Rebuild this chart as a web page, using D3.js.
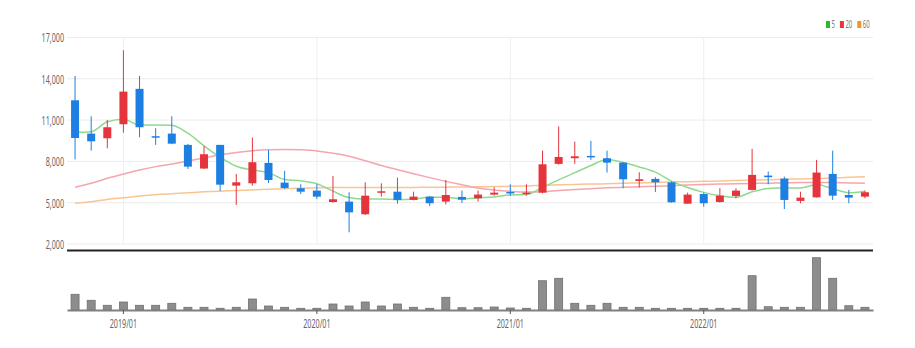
<!DOCTYPE html>
<html><head><meta charset="utf-8">
<script src="https://cdn.jsdelivr.net/npm/d3@7"></script>
<style>
html,body{margin:0;padding:0;background:#fff;}
svg{display:block;font-family:"Noto Sans",sans-serif;}
</style></head>
<body><svg id="c" width="915" height="348"></svg>
<script>
const months = ["2018/10","2018/11","2018/12",
"2019/01","2019/02","2019/03","2019/04","2019/05","2019/06","2019/07","2019/08","2019/09","2019/10","2019/11","2019/12",
"2020/01","2020/02","2020/03","2020/04","2020/05","2020/06","2020/07","2020/08","2020/09","2020/10","2020/11","2020/12",
"2021/01","2021/02","2021/03","2021/04","2021/05","2021/06","2021/07","2021/08","2021/09","2021/10","2021/11","2021/12",
"2022/01","2022/02","2022/03","2022/04","2022/05","2022/06","2022/07","2022/08","2022/09","2022/10","2022/11"];
const openP  = [12440,10020,9680,10700,13270,9830,10020,9200,7480,9200,6240,6410,7890,6460,6050,5880,5050,5080,4160,5730,5800,5200,5440,5080,5420,5320,5590,5780,5630,5730,7820,8230,8400,8230,7910,6580,6730,6480,4930,5630,5050,5490,5930,6970,6750,5130,5390,7090,5560,5440];
const highP  = [14210,11280,11010,16080,14210,10410,11280,9270,9120,9200,7090,9730,8830,7310,6340,6340,6940,5760,6480,6410,6820,5800,5490,6650,5880,5880,6120,6340,6340,8780,10550,9440,9490,8780,7950,7210,6850,6530,5730,5730,6050,6050,8910,7260,6890,5800,8110,8780,5930,5880];
const lowP   = [8150,8780,8950,10090,9750,9200,9250,7450,7450,5850,4840,6240,6430,6000,5630,5270,5000,2850,4110,5440,4930,5170,4760,4880,4980,5080,5510,5510,5510,5680,7770,7820,8110,7190,6050,6100,5780,5000,4930,4710,5000,5320,5880,6340,4540,4960,5370,5200,4960,5320];
const closeP = [9700,9460,10480,13070,10480,9760,9290,7620,8520,6310,6480,7940,6650,6070,5800,5440,5250,4300,5510,5830,5200,5440,4960,5560,5220,5590,5730,5700,5730,7790,8320,8370,8300,7910,6700,6700,6480,5030,5590,4960,5510,5880,7020,6850,5200,5370,7190,5510,5370,5760];
const ma5  = [10110,10160,10880,11060,10640,10650,10620,10050,9130,8300,7650,7370,7180,6690,6590,6380,5840,5370,5260,5270,5220,5260,5390,5400,5280,5350,5410,5560,5590,6110,6660,7180,7700,8140,7920,7600,7220,6570,6100,5750,5510,5390,5790,6040,6090,6060,6320,6020,5730,5840];
const ma20 = [6120,6410,6770,7080,7370,7620,7810,8030,8250,8480,8650,8780,8850,8870,8840,8760,8600,8380,8050,7700,7400,7100,6820,6550,6300,6060,5920,5830,5780,5800,5880,5950,6020,6080,6120,6160,6200,6240,6280,6320,6350,6380,6400,6420,6440,6460,6470,6460,6440,6420];
const ma60 = [4960,5070,5240,5360,5480,5580,5650,5720,5790,5840,5880,5930,5970,6010,6050,6080,6100,6110,6110,6110,6110,6110,6120,6130,6140,6150,6170,6190,6220,6260,6300,6330,6350,6380,6410,6440,6470,6500,6520,6550,6580,6610,6640,6670,6700,6730,6760,6800,6840,6880];
const volume = [157,97,47,80,47,47,67,27,27,17,27,110,40,27,17,17,60,40,80,40,60,27,17,127,23,23,30,20,17,293,317,67,47,67,27,27,17,17,17,17,17,17,343,33,27,27,523,317,43,27];
const priceTicks = [2000,5000,8000,11000,14000,17000];
const yearTicks = ["2019/01","2020/01","2021/01","2022/01"];
const maNames = ["5","20","60"];
const maColors = ["#8fd98f","#f5a5ad","#f8c593"];
const legendColors = ["#2db92d","#e8343c","#f3922c"];
const upColor = "#e5343c", downColor = "#1d7fe2";

const svg = d3.select("#c");
const L = 67, R = 873;
const x = d3.scaleBand().domain(months).range([L, R]).padding(0);
const cx = m => x(m) + x.bandwidth()/2;
const y = d3.scaleLinear().domain([2000, 17000]).range([244, 37.5]);
const yv = d3.scaleLinear().domain([0, d3.max(volume)]).range([310, 257.7]);
const SX = 0.6;

// horizontal grid
svg.append("g").selectAll("line").data(priceTicks).join("line")
  .attr("x1", L).attr("x2", R).attr("y1", d => y(d)).attr("y2", d => y(d))
  .attr("stroke", "#ececec").attr("stroke-width", 1);
// vertical grid
svg.append("g").selectAll("line").data(yearTicks).join("line")
  .attr("x1", d => cx(d)).attr("x2", d => cx(d)).attr("y1", y(17000)).attr("y2", y(2000))
  .attr("stroke", "#efefef").attr("stroke-width", 1);

// y axis
const ya = svg.append("g").attr("transform", `translate(${L},0)`)
  .call(d3.axisLeft(y).tickValues(priceTicks).tickFormat(d3.format(",")).tickSize(0));
ya.select(".domain").remove();
ya.selectAll("text").attr("x", -3/SX).attr("dy", "0.36em")
  .attr("transform", `scale(${SX},1)`)
  .attr("fill", "#666").style("font-size", "12px").style("font-family", "Noto Sans");

// MA lines
const line = d3.line().x((d,i) => cx(months[i])).y(d => y(d)).curve(d3.curveMonotoneX);
[ma60, ma20, ma5].forEach((arr, k) => {
  const idx = 2 - k;
  svg.append("path").datum(arr).attr("d", line).attr("fill", "none")
    .attr("stroke", maColors[idx]).attr("stroke-width", 1.5);
});

// candles
const cd = months.map((m,i) => ({m, o:openP[i], h:highP[i], l:lowP[i], c:closeP[i]}));
const cg = svg.append("g").selectAll("g").data(cd).join("g");
cg.append("line").attr("x1", d => cx(d.m)).attr("x2", d => cx(d.m))
  .attr("y1", d => y(d.h)).attr("y2", d => y(d.l))
  .attr("stroke", d => d.c >= d.o ? upColor : downColor).attr("stroke-width", 1);
cg.append("rect").attr("x", d => cx(d.m) - 4).attr("width", 8)
  .attr("y", d => y(Math.max(d.o, d.c)))
  .attr("height", d => Math.max(1.5, Math.abs(y(d.o) - y(d.c))))
  .attr("fill", d => d.c >= d.o ? upColor : downColor);

// separator line
svg.append("line").attr("x1", L).attr("x2", R).attr("y1", 250.5).attr("y2", 250.5)
  .attr("stroke", "#222").attr("stroke-width", 2);

// volume bars
svg.append("g").selectAll("rect").data(volume).join("rect")
  .attr("x", (d,i) => cx(months[i]) - 4).attr("width", 8)
  .attr("y", d => yv(d)).attr("height", d => yv(0) - yv(d))
  .attr("fill", "#8d8d8d").attr("stroke", "#707070").attr("stroke-width", 0.8);

// x axis
const xa = svg.append("g").attr("transform", "translate(0,310)")
  .call(d3.axisBottom(x).tickValues(yearTicks).tickSize(4).tickSizeOuter(0));
xa.select(".domain").attr("stroke", "#808080").attr("stroke-width", 2);
xa.selectAll(".tick line").attr("stroke", "#555");
xa.selectAll("text").attr("y", 9.5).attr("transform", `scale(${SX},1)`)
  .attr("fill", "#666").style("font-size", "12px").style("font-family", "Noto Sans");

// legend
const lg = svg.append("g").attr("transform", "translate(826,0)");
let off = 0;
maNames.forEach((n, i) => {
  lg.append("rect").attr("x", off).attr("y", 21).attr("width", 4).attr("height", 7).attr("fill", legendColors[i]);
  const t = lg.append("text").attr("transform", `translate(${off + 5.5},28) scale(${SX},1)`)
    .attr("fill", "#777").style("font-size", "10px").style("font-family", "Noto Sans").text(n);
  const w = t.node().getComputedTextLength() * SX;
  off += 5.5 + w + 5;
});
</script>
</body></html>
